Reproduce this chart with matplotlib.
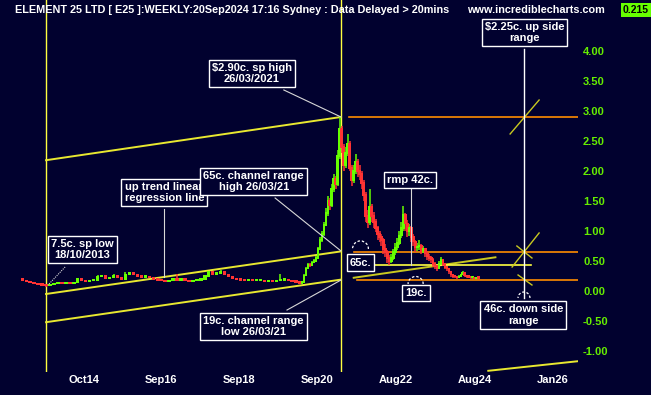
import numpy as np
import matplotlib
matplotlib.use("Agg")
import matplotlib.pyplot as plt
from matplotlib.patches import Arc

plt.rcParams["font.family"] = ["Liberation Sans", "DejaVu Sans"]
plt.rcParams["font.weight"] = "bold"

NAVY = "#01012f"
VERDE = "#66ff00"
VERMELHO = "#ff3333"
AMARELO = "#ffff40"
AMARELO_ESC = "#c8c820"
LARANJA = "#ff8c00"
BRANCO = "#ffffff"

# ---------------------------------------------------------------------------
# dados (semanal, amostrado): periodo lateral 2013-2020 e periodo volatil 2020-2024
# ---------------------------------------------------------------------------
datas_flat = np.round(2013.2 + 0.1 * np.arange(71), 2)
fech_flat = [0.18, 0.16, 0.14, 0.12, 0.11, 0.10, 0.09, 0.11, 0.12, 0.13,
             0.12, 0.13, 0.12, 0.14, 0.20, 0.18, 0.16, 0.17, 0.18, 0.24,
             0.25, 0.21, 0.22, 0.26, 0.22, 0.20, 0.28, 0.30, 0.27, 0.24,
             0.23, 0.24, 0.22, 0.20, 0.18, 0.17, 0.16, 0.18, 0.19, 0.18,
             0.20, 0.17, 0.16, 0.17, 0.18, 0.19, 0.25, 0.32, 0.28, 0.30,
             0.33, 0.27, 0.24, 0.21, 0.19, 0.18, 0.17, 0.18, 0.17, 0.17,
             0.18, 0.16, 0.17, 0.16, 0.17, 0.18, 0.19, 0.17, 0.16, 0.15,
             0.13]
max_flat = [0.20, 0.19, 0.17, 0.15, 0.13, 0.12, 0.11, 0.12, 0.13, 0.14,
            0.14, 0.14, 0.14, 0.15, 0.22, 0.21, 0.19, 0.18, 0.19, 0.27,
            0.27, 0.26, 0.23, 0.28, 0.27, 0.23, 0.31, 0.32, 0.31, 0.28,
            0.25, 0.25, 0.25, 0.23, 0.21, 0.19, 0.18, 0.19, 0.20, 0.28,
            0.21, 0.21, 0.18, 0.18, 0.19, 0.20, 0.27, 0.34, 0.33, 0.32,
            0.35, 0.34, 0.28, 0.25, 0.22, 0.20, 0.19, 0.19, 0.19, 0.18,
            0.19, 0.19, 0.18, 0.18, 0.18, 0.29, 0.20, 0.20, 0.18, 0.17,
            0.16]
min_flat = [0.17, 0.15, 0.13, 0.11, 0.10, 0.09, 0.075, 0.08, 0.10, 0.11,
            0.11, 0.11, 0.11, 0.11, 0.13, 0.17, 0.15, 0.15, 0.16, 0.17,
            0.23, 0.20, 0.20, 0.21, 0.21, 0.19, 0.19, 0.27, 0.26, 0.23,
            0.22, 0.22, 0.21, 0.19, 0.17, 0.16, 0.15, 0.15, 0.17, 0.17,
            0.17, 0.16, 0.15, 0.15, 0.16, 0.17, 0.18, 0.24, 0.27, 0.27,
            0.29, 0.26, 0.23, 0.20, 0.18, 0.17, 0.16, 0.16, 0.16, 0.16,
            0.16, 0.15, 0.15, 0.15, 0.15, 0.16, 0.17, 0.16, 0.15, 0.14,
            0.12]

datas_vol = np.round(2020.25 + 0.05 * np.arange(90), 2)
fech_vol = [0.15, 0.26, 0.38, 0.44, 0.42, 0.48, 0.50, 0.55, 0.70, 0.85,
            0.95, 1.10, 1.30, 1.50, 1.42, 1.70, 1.88, 1.78, 2.25, 2.70,
            2.40, 2.10, 2.30, 2.45, 2.05, 1.85, 2.00, 2.15, 2.00, 1.95,
            1.80, 1.60, 1.25, 1.15, 1.40, 1.25, 1.15, 1.05, 0.95, 0.90,
            0.85, 0.70, 0.65, 0.55, 0.50, 0.55, 0.65, 0.72, 0.80, 0.92,
            1.05, 1.28, 1.12, 1.00, 1.05, 0.90, 0.82, 0.72, 0.74, 0.76,
            0.68, 0.70, 0.62, 0.58, 0.55, 0.52, 0.45, 0.42, 0.38, 0.46,
            0.52, 0.45, 0.40, 0.37, 0.32, 0.28, 0.25, 0.24, 0.22, 0.24,
            0.27, 0.30, 0.26, 0.24, 0.23, 0.22, 0.22, 0.21, 0.22, 0.215]
max_vol = [0.16, 0.28, 0.40, 0.47, 0.46, 0.50, 0.53, 0.58, 0.73, 0.90,
           1.00, 1.15, 1.38, 1.58, 1.55, 1.78, 1.95, 1.92, 2.35, 2.90,
           2.75, 2.45, 2.40, 2.62, 2.50, 2.10, 2.10, 2.28, 2.20, 2.10,
           2.00, 1.85, 1.65, 1.35, 1.70, 1.45, 1.32, 1.20, 1.08, 1.00,
           0.95, 0.88, 0.78, 0.68, 0.60, 0.62, 0.70, 0.80, 0.88, 1.00,
           1.15, 1.42, 1.30, 1.18, 1.12, 1.08, 0.95, 0.85, 0.80, 0.85,
           0.78, 0.75, 0.72, 0.66, 0.62, 0.58, 0.55, 0.48, 0.44, 0.50,
           0.57, 0.54, 0.47, 0.42, 0.38, 0.33, 0.29, 0.27, 0.25, 0.26,
           0.29, 0.33, 0.31, 0.27, 0.25, 0.24, 0.23, 0.23, 0.23, 0.23]
min_vol = [0.12, 0.15, 0.25, 0.37, 0.40, 0.41, 0.46, 0.49, 0.54, 0.68,
           0.82, 0.92, 1.08, 1.25, 1.35, 1.40, 1.65, 1.70, 1.75, 2.20,
           2.30, 2.00, 2.05, 2.25, 2.00, 1.75, 1.80, 1.95, 1.90, 1.85,
           1.70, 1.50, 1.15, 1.05, 1.10, 1.15, 1.05, 0.98, 0.85, 0.82,
           0.75, 0.62, 0.57, 0.47, 0.43, 0.46, 0.52, 0.60, 0.68, 0.76,
           0.88, 1.00, 1.00, 0.90, 0.92, 0.82, 0.75, 0.65, 0.66, 0.68,
           0.62, 0.63, 0.56, 0.52, 0.50, 0.46, 0.40, 0.36, 0.33, 0.36,
           0.44, 0.42, 0.36, 0.33, 0.28, 0.24, 0.22, 0.21, 0.20, 0.21,
           0.23, 0.26, 0.24, 0.22, 0.21, 0.20, 0.20, 0.20, 0.20, 0.20]
abertura_inicial = 0.19

# linhas de tendencia (canal de regressao) ancoradas em 18/10/2013 e 26/03/2021
canal_x = [2013.8, 2021.23]
canal_sup = [2.18, 2.90]
canal_med = [-0.05, 0.66]
canal_inf = [-0.52, 0.19]

niveis_laranja = [2.90, 0.65, 0.19]
inicio_laranja = [2021.43, 2021.56, 2021.63]
rmp = 0.43
projecao_x = 2025.84

yticks = [4.0, 3.5, 3.0, 2.5, 2.0, 1.5, 1.0, 0.5, 0.0, -0.5, -1.0]
ytick_labels = ["4.00", "3.50", "3.00", "2.50", "2.00", "1.50", "1.00", "0.50", "0.00", "-0.50", "-1.00"]
xtick_pos = [2014.75, 2016.69, 2018.66, 2020.63, 2022.62, 2024.61, 2026.55]
xtick_labels = ["Oct14", "Sep16", "Sep18", "Sep20", "Aug22", "Aug24", "Jan26"]

# ---------------------------------------------------------------------------
fig = plt.figure(figsize=(6.51, 3.95), dpi=100, facecolor=NAVY)
ax = fig.add_axes([0, 23 / 395, 578 / 651, 372 / 395], facecolor=NAVY)
ax.set_xlim(2012.64, 2027.2)
ax.set_ylim(-1.35, 4.85)
for s in ax.spines.values():
    s.set_visible(False)

# velas
datas = np.concatenate([datas_flat, datas_vol])
fech = np.array(fech_flat + fech_vol)
maxs = np.array(max_flat + max_vol)
mins = np.array(min_flat + min_vol)
aber = np.r_[abertura_inicial, fech[:-1]]
larg = np.r_[np.full(len(datas_flat), 0.085), np.full(len(datas_vol), 0.07)]
cores = [VERDE if c >= o else VERMELHO for o, c in zip(aber, fech)]
base = np.minimum(aber, fech) - 0.01
corpo = np.maximum(np.abs(fech - aber), 0.02) + 0.02
ax.vlines(datas, mins, maxs, colors=cores, lw=1.1, zorder=3)
ax.bar(datas, corpo, bottom=base, width=larg, color=cores, lw=0, zorder=3)

# linhas verticais
for xv in canal_x:
    ax.axvline(xv, color=AMARELO, lw=1, zorder=2)

# canal
ax.plot(canal_x, canal_sup, color="#e8e830", lw=1.4, zorder=2)
ax.plot(canal_x, canal_med, color="#e8e830", lw=1.4, zorder=2)
ax.plot(canal_x, canal_inf, color="#e8e830", lw=1.4, zorder=2)
incl = (canal_inf[1] - canal_inf[0]) / (canal_x[1] - canal_x[0])
ext_x = [2021.55, 2025.12]
ax.plot(ext_x, [canal_inf[0] + incl * (x - canal_x[0]) for x in ext_x],
        color=AMARELO_ESC, lw=1.4, zorder=2)
ax.plot([2024.94, 2027.2], [-1.33, -1.17], color="#e8e830", lw=1.4, zorder=2)

# niveis horizontais
for nv, x0 in zip(niveis_laranja, inicio_laranja):
    ax.plot([x0, 2027.2], [nv, nv], color=LARANJA, lw=1.2, zorder=2)
ax.plot([2021.53, 2026.02], [rmp, rmp], color=AMARELO, lw=1.2, zorder=2)

# projecoes (X)
ax.plot([2025.49, 2026.22], [2.617, 3.183], color=AMARELO_ESC, lw=1, zorder=2)
ax.plot([2025.54, 2026.22], [0.40, 0.967], color=AMARELO_ESC, lw=1, zorder=2)
ax.plot([2025.66, 2026.04], [0.75, 0.55], color=AMARELO_ESC, lw=1, zorder=2)
ax.plot([2025.69, 2026.04], [0.267, 0.10], color=AMARELO_ESC, lw=1, zorder=2)
ax.plot([projecao_x, projecao_x], [4.03, -0.117], color=BRANCO, lw=1, zorder=4)

# linhas de chamada
chamadas = [
    ([2019.79, 2021.23], [3.35, 2.90]),
    ([2016.77, 2016.77], [1.367, 0.233]),
    ([2019.57, 2021.23], [1.55, 0.667]),
    ([2019.87, 2021.23], [-0.317, 0.183]),
    ([2022.99, 2022.99], [1.717, 0.433]),
]
for xs, ys in chamadas:
    ax.plot(xs, ys, color="#d8d8d8", lw=0.8, zorder=4)
ax.plot([2014.28, 2013.85], [0.40, 0.10], color="#d8d8d8", lw=0.8, ls=(0, (1, 1)), zorder=4)

for cx, cy, w, h in [(2021.72, 0.70, 0.40, 0.27), (2023.11, 0.117, 0.38, 0.25),
                     (2025.84, -0.117, 0.30, 0.20)]:
    ax.add_patch(Arc((cx, cy), w, h, theta1=0, theta2=180, color=BRANCO,
                     lw=0.9, ls=(0, (2, 1.5)), zorder=4))

# caixas de texto
caixa = dict(boxstyle="square,pad=0.28", fc=NAVY, ec=BRANCO, lw=1)
rotulos = [
    (2016.78, 1.642, "up trend linear\nregression line"),
    (2019.03, 1.825, "65c. channel range\nhigh 26/03/21"),
    (2018.98, 3.625, "$2.90c. sp high\n26/03/2021"),
    (2025.85, 4.308, "$2.25c. up side\nrange"),
    (2014.71, 0.692, "7.5c. sp low\n18/10/2013"),
    (2019.03, -0.592, "19c. channel range\nlow 26/03/21"),
    (2022.97, 1.85, "rmp 42c."),
    (2021.72, 0.475, "65c."),
    (2023.12, -0.033, "19c."),
    (2025.82, -0.40, "46c. down side\nrange"),
]
for x, y, t in rotulos:
    ax.text(x, y, t, ha="center", va="center", color=BRANCO, fontsize=8,
            fontweight="bold", linespacing=1.2, bbox=caixa, zorder=6)

# eixos
ax.yaxis.tick_right()
ax.set_yticks(yticks, ytick_labels)
ax.tick_params(axis="y", length=0, pad=3.6, labelcolor="#66ee00", labelsize=8)
ax.set_xticks(xtick_pos, xtick_labels)
ax.tick_params(axis="x", length=0, pad=2, labelcolor=BRANCO, labelsize=8)

# cabecalho
fig.text(15 / 651, 1 - 10 / 395,
         "ELEMENT 25 LTD [ E25 ]:WEEKLY:20Sep2024 17:16 Sydney : Data Delayed > 20mins",
         color=BRANCO, fontsize=7.8, fontweight="bold", va="center", ha="left")
fig.text(605 / 651, 1 - 10 / 395, "www.incrediblecharts.com", color=BRANCO,
         fontsize=7.8, fontweight="bold", va="center", ha="right")
fig.text(636 / 651, 1 - 10 / 395, "0.215", color="#000000", fontsize=7.5,
         fontweight="bold", va="center", ha="center",
         bbox=dict(boxstyle="square,pad=0.2", fc=VERDE, ec="none"))

fig.savefig("out.png", dpi=100, facecolor=NAVY)
plt.close(fig)
